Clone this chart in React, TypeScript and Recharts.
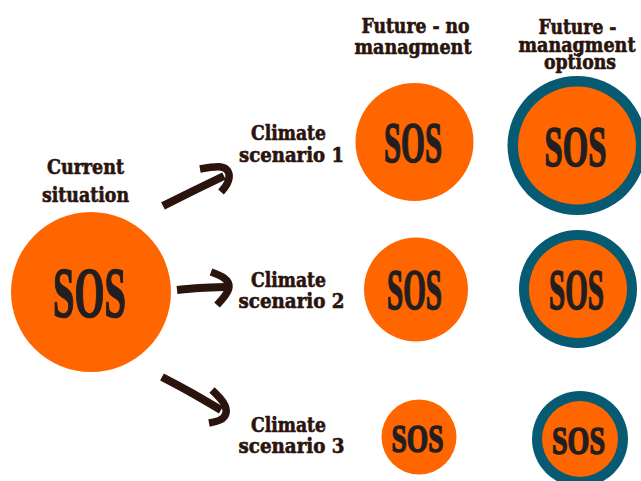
import React from 'react';
import { ComposedChart, Scatter, XAxis, YAxis } from 'recharts';

const W = 641;
const H = 481;

const ORANGE = '#FF6600';
const TEAL = '#065B73';
const INK = '#2A140D';
const SOS_INK = '#231F20';

// Circles: centre (x,y), outer radius r, ring thickness, SOS cap height & width
const currentNode = [{ name: 'current', x: 91, y: 292, r: 80, ring: 0, cap: 48, tw: 73 }];
const noManagementNodes = [
  { name: 'no1', x: 414.5, y: 142, r: 59, ring: 0, cap: 38, tw: 58 },
  { name: 'no2', x: 416, y: 289.5, r: 52, ring: 0, cap: 37, tw: 55 },
  { name: 'no3', x: 419, y: 437, r: 37.5, ring: 0, cap: 27, tw: 52 },
];
const managementNodes = [
  { name: 'm1', x: 577, y: 145.5, r: 69.5, ring: 10.5, cap: 38, tw: 62 },
  { name: 'm2', x: 578, y: 289, r: 59, ring: 10, cap: 37, tw: 55 },
  { name: 'm3', x: 580, y: 439, r: 48, ring: 10, cap: 27, tw: 53 },
];

// Text labels: centre x, baseline y, text, width
const headerLabels = [
  { x: 415.5, y: 33, text: 'Future - no', tw: 108 },
  { x: 413, y: 54, text: 'managment', tw: 117 },
  { x: 577.5, y: 34, text: 'Future -', tw: 78 },
  { x: 577, y: 52, text: 'managment', tw: 117 },
  { x: 580, y: 69, text: 'options', tw: 72 },
];
const currentLabels = [
  { x: 85.5, y: 174, text: 'Current', tw: 77 },
  { x: 85.5, y: 202, text: 'situation', tw: 87 },
];
const scenarioLabels = [
  { x: 288.5, y: 140, text: 'Climate', tw: 75 },
  { x: 291.5, y: 162, text: 'scenario 1', tw: 105 },
  { x: 288.5, y: 287, text: 'Climate', tw: 75 },
  { x: 291.5, y: 308, text: 'scenario 2', tw: 106 },
  { x: 288.5, y: 432, text: 'Climate', tw: 75 },
  { x: 291.5, y: 453, text: 'scenario 3', tw: 106 },
];

// Arrows: shaft and head polylines
const arrow1Shaft = [{ x: 163, y: 206 }, { x: 193, y: 191 }, { x: 224, y: 176 }];
const arrow1Head = [{ x: 200, y: 169 }, { x: 221, y: 167 }, { x: 229, y: 174 }, { x: 227, y: 184 }, { x: 221, y: 192 }];
const arrow2Shaft = [{ x: 177, y: 290 }, { x: 200, y: 288 }, { x: 226, y: 287 }];
const arrow2Head = [{ x: 211, y: 272 }, { x: 224, y: 278 }, { x: 229, y: 287 }, { x: 224, y: 297 }, { x: 217, y: 305 }];
const arrow3Shaft = [{ x: 162, y: 377 }, { x: 190, y: 392 }, { x: 221, y: 410 }];
const arrow3Head = [{ x: 212, y: 390 }, { x: 223, y: 402 }, { x: 226, y: 413 }, { x: 220, y: 420 }, { x: 209, y: 423 }];

const CircleShape = (props: any) => {
  const { cx, cy, payload } = props;
  if (cx == null || cy == null) return <g />;
  const inner = payload.r - payload.ring;
  return (
    <g>
      {payload.ring > 0 && <circle cx={cx} cy={cy} r={payload.r} fill={TEAL} />}
      <circle cx={cx} cy={cy} r={inner} fill={ORANGE} />
      <text
        x={cx - 1.5}
        y={cy + 1 + payload.cap / 2}
        textAnchor="middle"
        fontFamily="'Liberation Serif', serif"
        fontWeight={700}
        fontSize={payload.cap / 0.66}
        textLength={payload.tw}
        lengthAdjust="spacingAndGlyphs"
        fill={SOS_INK}
        stroke={SOS_INK}
        strokeWidth={1.6}
      >
        SOS
      </text>
    </g>
  );
};

const makeLabelShape = (fontSize: number) => (props: any) => {
  const { cx, cy, payload } = props;
  if (cx == null || cy == null) return <g />;
  return (
    <text
      x={cx}
      y={cy}
      textAnchor="middle"
      fontFamily="'DejaVu Serif', serif"
      fontWeight={700}
      fontSize={fontSize}
      textLength={payload.tw}
      lengthAdjust="spacingAndGlyphs"
      fill={INK}
      stroke={INK}
      strokeWidth={0.6}
    >
      {payload.text}
    </text>
  );
};

const HeaderShape = makeLabelShape(19.5);
const BodyLabelShape = makeLabelShape(19.5);
const NoDot = () => <g />;

export default function App() {
  const arrowSeries = [
    { key: 'a1s', data: arrow1Shaft, w: 8 },
    { key: 'a1h', data: arrow1Head, w: 7.5 },
    { key: 'a2s', data: arrow2Shaft, w: 8 },
    { key: 'a2h', data: arrow2Head, w: 7.5 },
    { key: 'a3s', data: arrow3Shaft, w: 8 },
    { key: 'a3h', data: arrow3Head, w: 7.5 },
  ];
  return (
    <div style={{ position: 'absolute', left: 0, top: 0, width: W, height: H, background: '#fff' }}>
      <ComposedChart width={W} height={H} margin={{ top: 0, right: 0, bottom: 0, left: 0 }}>
        <XAxis type="number" dataKey="x" domain={[0, W]} allowDataOverflow hide />
        <YAxis type="number" dataKey="y" domain={[0, H]} allowDataOverflow reversed hide />
        {arrowSeries.map((a) => (
          <Scatter
            key={a.key}
            data={a.data}
            shape={NoDot}
            line={{ stroke: INK, strokeWidth: a.w, strokeLinecap: 'butt', strokeLinejoin: 'round' }}
            lineType="joint"
            lineJointType="natural"
            isAnimationActive={false}
          />
        ))}
        <Scatter data={currentNode} shape={CircleShape} isAnimationActive={false} />
        <Scatter data={noManagementNodes} shape={CircleShape} isAnimationActive={false} />
        <Scatter data={managementNodes} shape={CircleShape} isAnimationActive={false} />
        <Scatter data={headerLabels} shape={HeaderShape} isAnimationActive={false} />
        <Scatter data={currentLabels} shape={BodyLabelShape} isAnimationActive={false} />
        <Scatter data={scenarioLabels} shape={BodyLabelShape} isAnimationActive={false} />
      </ComposedChart>
    </div>
  );
}
